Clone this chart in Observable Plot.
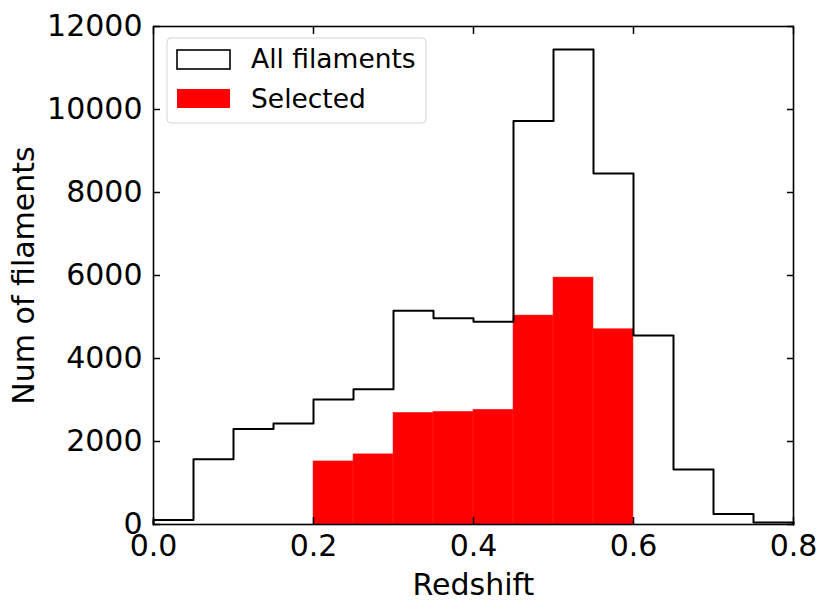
<!DOCTYPE html>
<html>
<head>
<meta charset="utf-8">
<script src="https://cdn.jsdelivr.net/npm/d3@7"></script>
<script src="https://cdn.jsdelivr.net/npm/@observablehq/plot@0.6"></script>
<style>
  html, body { margin: 0; padding: 0; background: #fff; }
  #chart svg { display: block; }
</style>
</head>
<body>
<div id="chart"></div>
<script>
// Histogram bin edges (redshift)
const binEdges = [0.00, 0.05, 0.10, 0.15, 0.20, 0.25, 0.30, 0.35, 0.40,
                  0.45, 0.50, 0.55, 0.60, 0.65, 0.70, 0.75, 0.80];
// All filaments counts per bin
const allCounts = [110, 1575, 2300, 2435, 3010, 3260, 5150, 4970,
                   4885, 9720, 11445, 8455, 4555, 1325, 255, 50];
// Selected filaments (bins from 0.20 to 0.60)
const selectedStarts = [0.20, 0.25, 0.30, 0.35, 0.40, 0.45, 0.50, 0.55];
const selectedCounts = [1520, 1690, 2690, 2715, 2765, 5035, 5950, 4705];
const binWidth = 0.05;

const xTicks = [0.0, 0.2, 0.4, 0.6, 0.8];
const yTicks = [0, 2000, 4000, 6000, 8000, 10000, 12000];
const legendLabels = ["All filaments", "Selected"];

// Step outline (histtype = step)
const stepPts = [{x: binEdges[0], y: 0}];
allCounts.forEach((c, i) => {
  stepPts.push({x: binEdges[i], y: c});
  stepPts.push({x: binEdges[i + 1], y: c});
});
stepPts.push({x: binEdges[binEdges.length - 1], y: 0});

const selData = selectedStarts.map((s, i) => ({x1: s, x2: s + binWidth, y: selectedCounts[i]}));

const fontFamily = "DejaVu Sans";
const tickFont = 30;

const plot = Plot.plot({
  width: 831,
  height: 611,
  marginLeft: 153,
  marginRight: 38,
  marginTop: 26,
  marginBottom: 87,
  style: {fontFamily, fontSize: tickFont + "px", color: "black", background: "white"},
  x: {domain: [0, 0.8]},
  y: {domain: [0, 12000]},
  marks: [
    Plot.rectY(selData, {x1: "x1", x2: "x2", y: "y", fill: "red", stroke: "#ff2020", strokeWidth: 0.5}),
    Plot.line(stepPts, {x: "x", y: "y", stroke: "black", strokeWidth: 2, curve: "linear"}),
    Plot.frame({stroke: "black", strokeWidth: 1.6}),
    Plot.axisX(xTicks, {anchor: "bottom", tickSize: -7, tickPadding: 17, strokeWidth: 1.5,
      tickFormat: d3.format(".1f"), fontSize: tickFont,
      label: "Redshift", labelAnchor: "center", labelOffset: 70, labelArrow: "none"}),
    Plot.axisX(xTicks, {anchor: "top", tickSize: -7, strokeWidth: 1.5, tickFormat: () => "", label: null}),
    Plot.axisY(yTicks, {anchor: "left", tickSize: -7, tickPadding: 18, strokeWidth: 1.5,
      tickFormat: d => String(d), fontSize: tickFont,
      label: "Num of filaments", labelAnchor: "center", labelOffset: 141, labelArrow: "none"}),
    Plot.axisY(yTicks, {anchor: "right", tickSize: -7, strokeWidth: 1.5, tickFormat: () => "", label: null})
  ]
});

document.getElementById("chart").appendChild(plot);

// Legend (upper left, inside the axes)
const svg = d3.select(plot);
const lg = svg.append("g").attr("font-family", fontFamily).attr("font-size", 26.5)
  .attr("text-anchor", "start");
lg.append("rect").attr("x", 167).attr("y", 38).attr("width", 259).attr("height", 85)
  .attr("rx", 4).attr("fill", "white").attr("fill-opacity", 0.85)
  .attr("stroke", "#d5d5d5").attr("stroke-width", 1);
lg.append("rect").attr("x", 177).attr("y", 50).attr("width", 53).attr("height", 19)
  .attr("fill", "none").attr("stroke", "black").attr("stroke-width", 1.6);
lg.append("rect").attr("x", 177).attr("y", 89).attr("width", 53).attr("height", 19)
  .attr("fill", "red");
lg.append("text").attr("x", 251).attr("y", 68).attr("fill", "black").text(legendLabels[0]);
lg.append("text").attr("x", 251).attr("y", 108).attr("fill", "black").text(legendLabels[1]);
</script>
</body>
</html>
